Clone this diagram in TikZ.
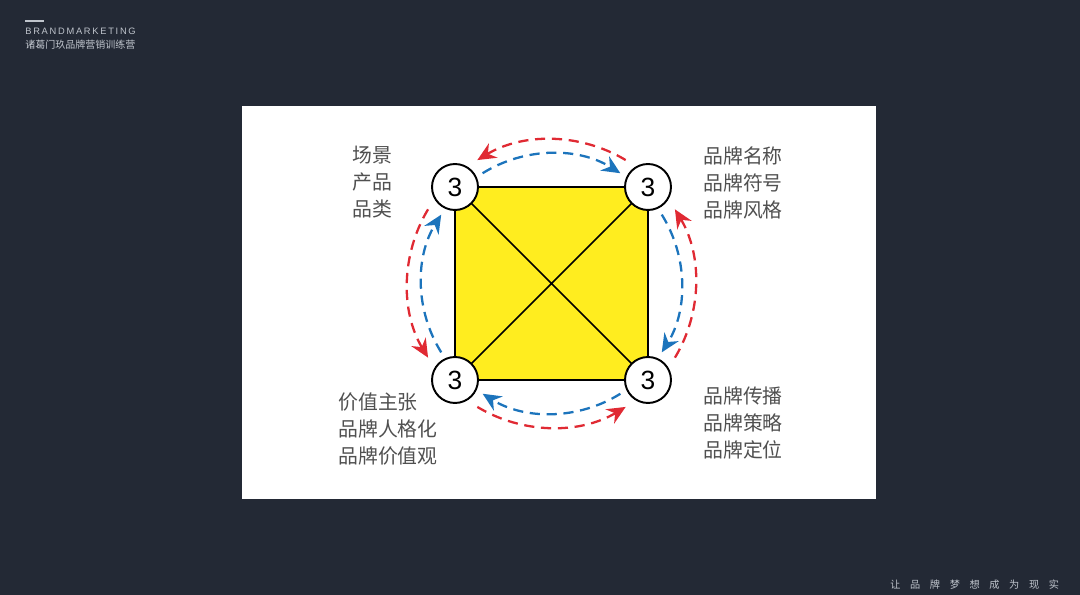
\documentclass[tikz,border=0pt]{standalone}
\usepackage{fontspec}
\setmainfont{Liberation Sans}
\newfontfamily\cjk{Noto Sans CJK SC}
\usepackage{tikz}
\usetikzlibrary{arrows.meta,calc}
\definecolor{bgdark}{HTML}{232935}
\definecolor{sqyellow}{HTML}{FFED1F}
\definecolor{flowred}{HTML}{E02A33}
\definecolor{flowblue}{HTML}{1C74BC}
\definecolor{labelgrey}{HTML}{505050}
\definecolor{headgrey}{HTML}{BFC4CC}

\begin{document}
\begin{tikzpicture}[x=0.02cm,y=0.02cm,
  vertex/.style={circle,draw,fill=white,line width=1.1pt,minimum size=0.92cm,inner sep=0pt,font=\fontsize{15}{16}\selectfont},
  flow/.style={line width=1.3pt,dash pattern=on 5.8pt off 3.8pt,-{Stealth[length=10.5pt,width=9.5pt,inset=3.5pt]}},
  redflow/.style={flow,flowred},
  blueflow/.style={flow,flowblue},
  lbl/.style={anchor=west,align=left,inner sep=0pt,text=labelgrey,font=\cjk\fontsize{11.3}{15.3}\selectfont},
  head/.style={anchor=west,inner sep=0pt,text=headgrey}]
% background and panel
\fill[bgdark] (0,0) rectangle (1080,595);
\useasboundingbox (0,0) rectangle (1080,595);
\fill[white] (242,96) rectangle (876,489);
% header and footer
\draw[headgrey,line width=0.6pt] (25,574) -- (44,574);
\node[head,font=\fontsize{5.3}{6}\selectfont] (brand) at (25,564) {\makebox[62pt][s]{B R A N D M A R K E T I N G}};
\node[head,font=\cjk\fontsize{5.7}{7}\selectfont] (school) at (25,550) {诸葛门玖品牌营销训练营};
\node[head,font=\cjk\fontsize{5.8}{7}\selectfont] (motto) at (890,10) {\makebox[96pt][s]{让 品 牌 梦 想 成 为 现 实}};
% square
\coordinate (O) at (551.5,311.5);
\coordinate (c1) at (455,408);
\coordinate (c2) at (648,408);
\coordinate (c3) at (455,215);
\coordinate (c4) at (648,215);
\draw[fill=sqyellow,line width=1.1pt] (c3) rectangle (c2);
\draw[line width=0.9pt] (c1) -- (c4) (c2) -- (c3);
\foreach \c in {1,...,4}
  \node[vertex] (n\c) at (c\c) {3};
% flows
\foreach \a in {0,90,180,270} {
  \draw[redflow] ($(O)+(\a-31:144)$) arc[start angle=\a-31,end angle=\a+31,radius=144];
  \draw[blueflow] ($(O)+(\a+32:130)$) arc[start angle=\a+32,end angle=\a-32,radius=130];
}
% labels
\node[lbl] (l1) at (352,413) {场景\\产品\\品类};
\node[lbl] (l2) at (703,412) {品牌名称\\品牌符号\\品牌风格};
\node[lbl] (l3) at (338,166) {价值主张\\品牌人格化\\品牌价值观};
\node[lbl] (l4) at (703,172) {品牌传播\\品牌策略\\品牌定位};
\end{tikzpicture}
\end{document}
